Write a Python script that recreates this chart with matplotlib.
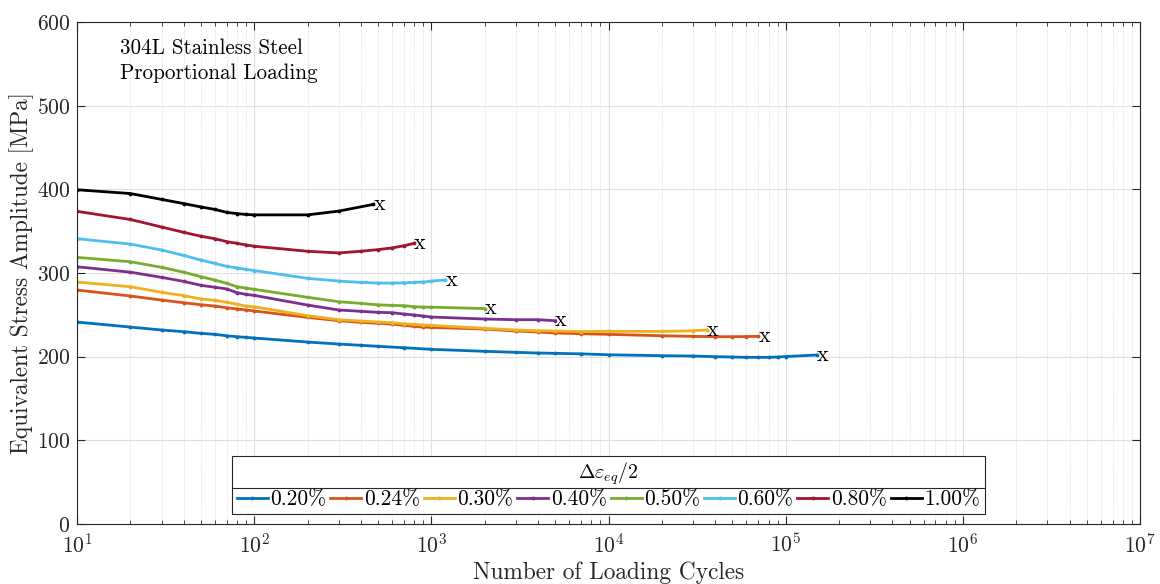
import matplotlib
matplotlib.use("Agg")
import matplotlib.pyplot as plt
from matplotlib.lines import Line2D
from matplotlib.ticker import LogLocator, NullFormatter
import numpy as np

plt.rcParams["font.family"] = ["cmr10", "DejaVu Serif"]
plt.rcParams["mathtext.fontset"] = "cm"
plt.rcParams["axes.formatter.use_mathtext"] = True

# strain amplitudes (legend labels)
labels = ["0.20%", "0.24%", "0.30%", "0.40%", "0.50%", "0.60%", "0.80%", "1.00%"]

# cycles / stress amplitude [MPa]
n_020 = [10, 20, 30, 40, 50, 60, 70, 80, 90, 100, 200, 300, 400, 500, 700, 1000,
         2000, 3000, 4000, 5000, 7000, 10000, 20000, 30000, 40000, 50000, 60000,
         70000, 80000, 90000, 100000, 150000]
s_020 = [241.4, 235.4, 231.9, 229.9, 227.9, 226.7, 225.0, 223.9, 223.1, 222.3, 217.5,
         215.1, 213.6, 212.4, 210.7, 208.8, 206.4, 205.2, 204.4, 204.0, 203.4, 202.3,
         201.2, 200.8, 200.0, 199.6, 199.2, 199.2, 199.2, 199.6, 200.2, 202.0]

n_024 = [10, 20, 30, 40, 50, 60, 70, 80, 90, 100, 200, 300, 400, 500, 600, 700, 800,
         900, 1000, 2000, 3000, 4000, 5000, 7000, 10000, 20000, 30000, 40000, 50000,
         60000, 70000]
s_024 = [279.7, 272.5, 267.7, 264.5, 262.1, 260.5, 258.5, 257.0, 255.8, 254.6, 247.0,
         243.0, 241.0, 239.9, 239.0, 237.5, 236.3, 235.4, 235.0, 233.0, 230.7, 229.5,
         228.3, 227.5, 226.7, 225.0, 224.3, 223.9, 223.9, 224.1, 224.3]

n_030 = [10, 20, 30, 40, 50, 60, 70, 80, 90, 100, 200, 300, 400, 500, 600, 700, 800,
         900, 1000, 2000, 3000, 4000, 5000, 7000, 10000, 20000, 30000, 36000]
s_030 = [289.2, 283.6, 277.0, 273.0, 269.0, 267.4, 265.0, 262.6, 260.5, 259.7, 249.0,
         244.2, 242.6, 241.4, 240.6, 239.4, 238.6, 237.8, 237.4, 233.9, 231.9, 231.0,
         230.7, 230.0, 230.3, 230.2, 231.0, 232.0]

n_040 = [10, 20, 30, 40, 50, 60, 70, 80, 90, 100, 200, 300, 400, 500, 600, 700, 800,
         900, 1000, 2000, 3000, 4000, 5000]
s_040 = [307.5, 301.0, 294.8, 290.0, 285.3, 283.0, 281.0, 276.5, 274.5, 273.3, 261.7,
         255.8, 254.2, 253.0, 252.6, 251.0, 249.8, 248.6, 247.4, 245.0, 244.2, 244.2,
         243.0]

n_050 = [10, 20, 30, 40, 50, 60, 70, 80, 90, 100, 200, 300, 400, 500, 600, 700, 800,
         900, 1000, 2000]
s_050 = [318.7, 313.5, 306.8, 301.0, 295.6, 291.6, 287.6, 283.6, 282.0, 280.5, 271.0,
         265.7, 263.7, 262.0, 261.3, 261.0, 259.7, 259.3, 259.2, 257.5]

n_060 = [10, 20, 30, 40, 50, 60, 70, 80, 90, 100, 200, 300, 400, 500, 600, 700, 800,
         900, 1000, 1200]
s_060 = [341.0, 334.6, 327.5, 321.0, 315.5, 311.5, 308.0, 306.0, 304.4, 303.0, 293.6,
         290.4, 288.8, 288.0, 288.0, 288.3, 288.8, 289.2, 290.4, 291.6]

n_080 = [10, 20, 30, 40, 50, 60, 70, 80, 90, 100, 200, 300, 400, 500, 600, 700, 800]
s_080 = [373.7, 364.0, 355.0, 348.6, 344.0, 341.0, 337.5, 335.5, 333.5, 332.0, 326.0,
         324.0, 326.0, 328.0, 330.0, 332.6, 335.5]

n_100 = [10, 20, 30, 40, 50, 60, 70, 80, 90, 100, 200, 300, 470]
s_100 = [399.5, 395.0, 388.0, 383.0, 379.0, 376.0, 372.5, 371.0, 370.0, 369.5, 369.5,
         374.0, 382.0]

cycles = [n_020, n_024, n_030, n_040, n_050, n_060, n_080, n_100]
stress = [s_020, s_024, s_030, s_040, s_050, s_060, s_080, s_100]

colors = [
    (0.0, 0.447, 0.741),
    (0.850, 0.325, 0.098),
    (0.929, 0.694, 0.125),
    (0.494, 0.184, 0.556),
    (0.466, 0.674, 0.188),
    (0.301, 0.745, 0.933),
    (0.635, 0.078, 0.184),
    (0.0, 0.0, 0.0),
]

fig = plt.figure(figsize=(11.6, 5.84), dpi=100)
ax = fig.add_axes([0.0664, 0.1027, 0.9164, 0.8596])

for n, s, c, lab in zip(cycles, stress, colors, labels):
    ax.plot(n, s, "-", color=c, lw=2.0, marker=".", ms=3.5, label=lab)
    # failure marker
    ax.text(n[-1], s[-1], "x", fontsize=16, ha="left", va="center")

ax.set_xscale("log")
ax.set_xlim(10, 1e7)
ax.set_ylim(0, 600)
ax.set_yticks(np.arange(0, 601, 100))
ax.xaxis.set_major_locator(LogLocator(base=10, numticks=10))
ax.xaxis.set_minor_locator(LogLocator(base=10, subs=np.arange(2, 10), numticks=100))
ax.xaxis.set_minor_formatter(NullFormatter())

axis_col = (0.15, 0.15, 0.15)
ax.grid(True, which="major", color=(0.88, 0.88, 0.88), lw=0.8)
ax.grid(True, which="minor", axis="x", color=(0.85, 0.85, 0.85), lw=0.7, ls=":")
ax.set_axisbelow(True)
for sp in ax.spines.values():
    sp.set_color(axis_col)
    sp.set_linewidth(0.8)
ax.tick_params(which="both", direction="in", top=True, right=True,
               colors=axis_col, labelsize=15.5)
ax.tick_params(which="major", length=6)
ax.tick_params(which="minor", length=3)
ax.tick_params(axis="x", which="major", pad=6)
ax.tick_params(axis="y", which="major", pad=5)

ax.set_xlabel("Number of Loading Cycles", fontsize=16.8, color=axis_col, labelpad=4)
ax.set_ylabel("Equivalent Stress Amplitude [MPa]", fontsize=16.8, color=axis_col,
              labelpad=1.5)

ax.text(0.04, 0.968, "304L Stainless Steel\nProportional Loading", transform=ax.transAxes,
        fontsize=15.2, ha="left", va="top", linespacing=1.35)

leg = ax.legend(loc="lower center", bbox_to_anchor=(0.5, 0.02), ncol=8,
                title=r"$\Delta\varepsilon_{eq}/2$", title_fontsize=14.3, fontsize=15.4,
                frameon=True, fancybox=False, edgecolor=axis_col, framealpha=1,
                handlelength=1.45, handletextpad=0.12, columnspacing=0.18,
                borderpad=0.22, labelspacing=0.12, borderaxespad=0.0)
leg.get_frame().set_linewidth(0.8)

# separator line between legend title and entries
fig.canvas.draw()
renderer = fig.canvas.get_renderer()
fb = leg.get_frame().get_window_extent()
tb = leg.get_title().get_window_extent()
hb = leg._legend_handle_box.get_window_extent(renderer)
ysep = 0.5 * (tb.y0 + hb.y1)
fw, fh = fig.canvas.get_width_height()
fig.add_artist(Line2D([fb.x0 / fw, fb.x1 / fw], [ysep / fh, ysep / fh],
                      color=axis_col, lw=0.8, transform=fig.transFigure))

fig.savefig("out.png", dpi=100)
